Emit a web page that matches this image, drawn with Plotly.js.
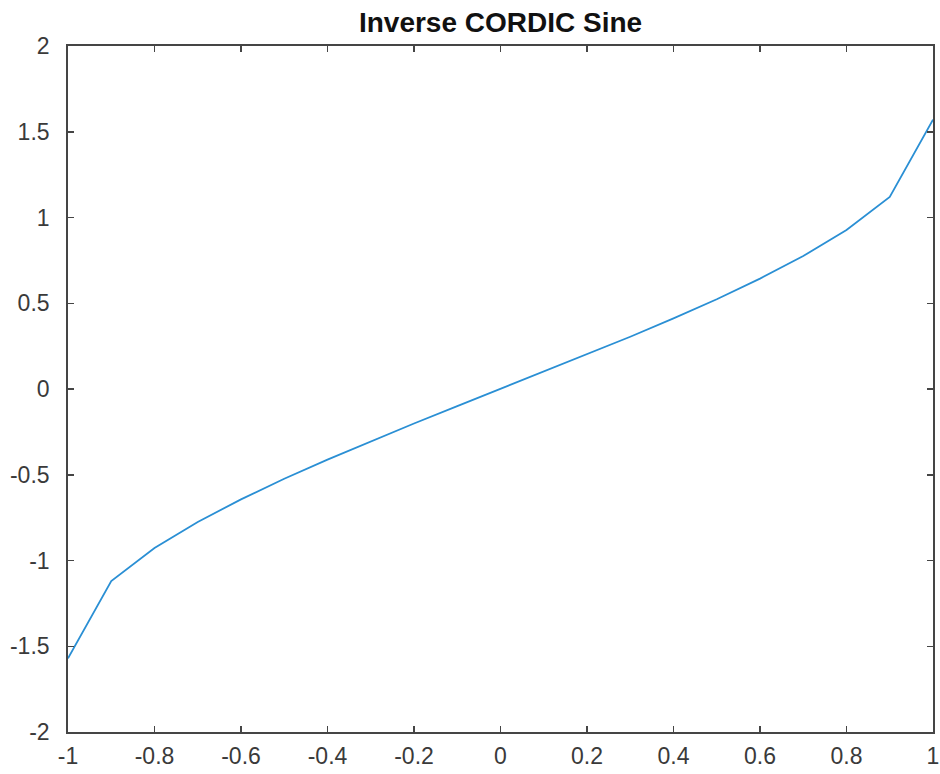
<!DOCTYPE html>
<html>
<head>
<meta charset="utf-8">
<script src="https://cdn.plot.ly/plotly-3.0.1.min.js"></script>
<style>html,body{margin:0;padding:0;background:#fff;}#chart{width:940px;height:774px;}</style>
</head>
<body>
<div id="chart"></div>
<script>
const xValues = [-1, -0.9, -0.8, -0.7, -0.6, -0.5, -0.4, -0.3, -0.2, -0.1, 0, 0.1, 0.2, 0.3, 0.4, 0.5, 0.6, 0.7, 0.8, 0.9, 1];
const thetaValues = [-1.5708, -1.1198, -0.9273, -0.7754, -0.6435, -0.5236, -0.4115, -0.3047, -0.2014, -0.1002, 0, 0.1002, 0.2014, 0.3047, 0.4115, 0.5236, 0.6435, 0.7754, 0.9273, 1.1198, 1.5708];
const xTicks = [-1, -0.8, -0.6, -0.4, -0.2, 0, 0.2, 0.4, 0.6, 0.8, 1];
const xTickLabels = ['-1', '-0.8', '-0.6', '-0.4', '-0.2', '0', '0.2', '0.4', '0.6', '0.8', '1'];
const yTicks = [-2, -1.5, -1, -0.5, 0, 0.5, 1, 1.5, 2];
const yTickLabels = ['-2', '-1.5', '-1', '-0.5', '0', '0.5', '1', '1.5', '2'];
const titleText = 'Inverse CORDIC Sine';

const axisColor = '#454545';
const fontFam = 'Liberation Sans, Arial, Helvetica, sans-serif';

const trace = {
  x: xValues, y: thetaValues, type: 'scatter', mode: 'lines',
  line: {color: '#2a8fd4', width: 1.8}, hoverinfo: 'none'
};
const common = {
  showgrid: false, zeroline: false, showline: true, mirror: 'ticks',
  linecolor: axisColor, linewidth: 1.8, ticks: 'inside', ticklen: 6,
  tickwidth: 1.5, tickcolor: axisColor, automargin: false,
  tickfont: {family: fontFam, size: 23, color: '#3a3a3a'}
};
const layout = {
  width: 940, height: 774,
  margin: {l: 68, r: 7, t: 46, b: 42},
  paper_bgcolor: '#fff', plot_bgcolor: '#fff',
  showlegend: false,
  title: {text: titleText, font: {family: fontFam, size: 28, color: '#111', weight: 'bold'},
          x: 0.5325, xanchor: 'center', y: 0.971, yanchor: 'middle'},
  xaxis: Object.assign({}, common, {range: [-1, 1], tickvals: xTicks, ticktext: xTickLabels, ticklabelstandoff: 3}),
  yaxis: Object.assign({}, common, {range: [-2, 2], tickvals: yTicks, ticktext: yTickLabels, ticklabelstandoff: 12})
};
Plotly.newPlot('chart', [trace], layout, {displayModeBar: false, staticPlot: true});
</script>
</body>
</html>
